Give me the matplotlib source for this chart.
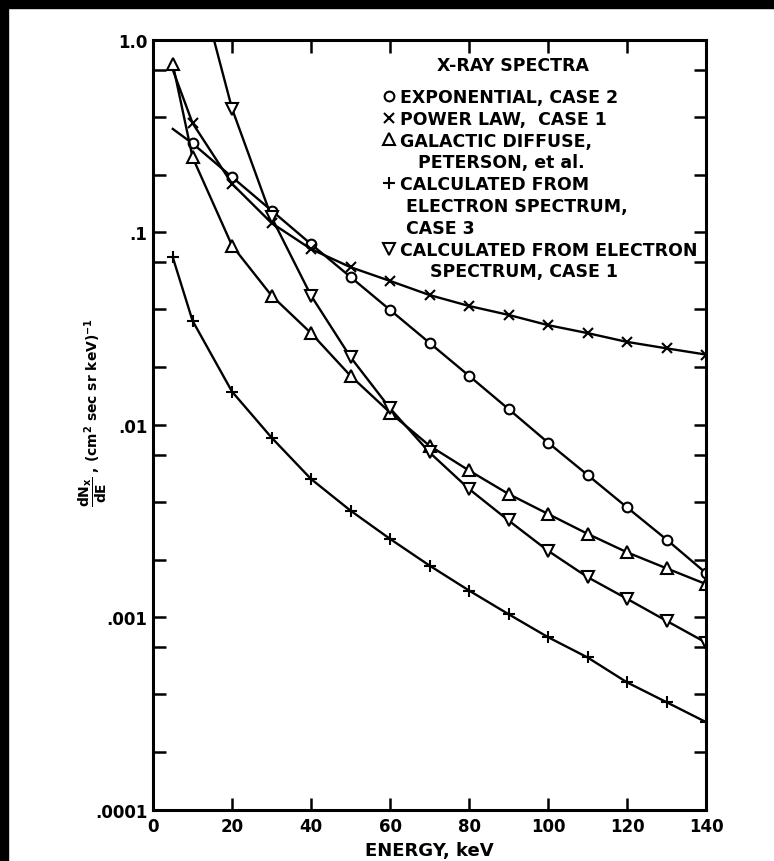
import matplotlib
matplotlib.use('Agg')
import matplotlib.pyplot as plt
from matplotlib.lines import Line2D
from matplotlib.patches import Rectangle
from matplotlib.ticker import LogLocator, FixedLocator, FixedFormatter, NullFormatter

plt.rcParams['font.family'] = ['DejaVu Sans']
plt.rcParams['font.weight'] = 'bold'
plt.rcParams['mathtext.fontset'] = 'dejavusans'
plt.rcParams['mathtext.default'] = 'bf'

# photon energy grid, keV
energy = [5, 10, 20, 30, 40, 50, 60, 70, 80, 90, 100, 110, 120, 130, 140]
energy_case1 = [15, 20, 30, 40, 50, 60, 70, 80, 90, 100, 110, 120, 130, 140]

# dN/dE spectra, (cm^2 sec sr keV)^-1
exp_case2 = [0.345, 0.29, 0.194, 0.13, 0.087, 0.0587, 0.0396, 0.0267, 0.018,
             0.0121, 0.0081, 0.0055, 0.00373, 0.00254, 0.0017]
power_case1 = [0.70, 0.37, 0.179, 0.112, 0.082, 0.066, 0.056, 0.0473, 0.0415,
               0.0373, 0.033, 0.030, 0.027, 0.0250, 0.0232]
galactic = [0.75, 0.246, 0.0855, 0.047, 0.030, 0.018, 0.0116, 0.0078, 0.0058,
            0.00438, 0.00345, 0.00272, 0.00218, 0.0018, 0.00149]
electron_case3 = [0.0743, 0.0348, 0.0149, 0.0086, 0.00524, 0.00359, 0.00256,
                  0.00186, 0.00138, 0.00104, 0.00079, 0.00062, 0.00046,
                  0.000363, 0.000286]
electron_case1 = [1.08, 0.44, 0.12, 0.047, 0.0225, 0.0122, 0.0072, 0.00465,
                  0.00319, 0.00222, 0.00162, 0.00125, 0.00096, 0.00074]

y_ticks = [1e-4, 1e-3, 1e-2, 1e-1, 1.0]
y_tick_labels = ['.0001', '.001', '.01', '.1', '1.0']
x_ticks = [0, 20, 40, 60, 80, 100, 120, 140]

fig = plt.figure(figsize=(7.74, 8.62), dpi=100)
ax = fig.add_axes([0.1977, 0.0592, 0.7145, 0.8933])

lw = 1.7
mk = dict(color='black', lw=lw, mec='black', mew=1.5)
ax.plot(energy, exp_case2, marker='o', ms=7, mfc='white', markevery=range(1, 15), **mk)
ax.plot(energy, power_case1, marker='x', ms=7, markevery=range(1, 15), **mk)
ax.plot(energy, galactic, marker='^', ms=9, mfc='white', **mk)
ax.plot(energy, electron_case3, marker='+', ms=9, **mk)
ax.plot(energy_case1, electron_case1, marker='v', ms=9, mfc='white', markevery=range(1, 14), **mk)

ax.set_yscale('log')
ax.set_xlim(0, 140)
ax.set_ylim(1e-4, 1.0)
ax.yaxis.set_major_locator(FixedLocator(y_ticks))
ax.yaxis.set_major_formatter(FixedFormatter(y_tick_labels))
ax.yaxis.set_minor_locator(LogLocator(base=10, subs=(2, 4, 7)))
ax.yaxis.set_minor_formatter(NullFormatter())
ax.set_xticks(x_ticks)

ax.tick_params(axis='both', which='both', direction='in', top=True, right=True,
               length=9, width=1.8, labelsize=12)
ax.tick_params(axis='y', pad=4)
ax.tick_params(axis='x', pad=5)
for s in ax.spines.values():
    s.set_linewidth(2.2)

ax.set_xlabel('ENERGY, keV', fontsize=13, fontweight='bold')
ax.xaxis.set_label_coords(0.5, -0.040)
ax.set_ylabel(r'$\dfrac{dN_x}{dE}$ , (cm$^2$ sec sr keV)$^{-1}$', fontsize=10, fontweight='bold')
ax.yaxis.set_label_coords(-0.08, 0.518)

# key block
ax.text(0.651, 0.9675, 'X-RAY SPECTRA', transform=ax.transAxes, ha='center', va='center',
        fontsize=12.5, fontweight='bold')

def key(marker, ms, fill='white'):
    return Line2D([], [], ls='none', marker=marker, ms=ms, mfc=fill, mec='black', mew=1.5, color='black')

blank = Line2D([], [], ls='none', marker='None')
handles = [key('o', 7), key('x', 7), key('^', 9), blank, key('+', 9), blank, blank, key('v', 9), blank]
labels = ['EXPONENTIAL, CASE 2',
          'POWER LAW,  CASE 1',
          'GALACTIC DIFFUSE,',
          '   PETERSON, et al.',
          'CALCULATED FROM',
          ' ELECTRON SPECTRUM,',
          ' CASE 3',
          'CALCULATED FROM ELECTRON',
          '     SPECTRUM, CASE 1']
ax.legend(handles, labels, loc='upper left', bbox_to_anchor=(0.418, 0.9377), frameon=False,
          handlelength=0.6, handletextpad=0.3, borderpad=0, borderaxespad=0,
          labelspacing=0.22, prop=dict(weight='bold', size=12.5))

# scan frame edges
fig.add_artist(Rectangle((0, 1 - 9 / 862), 1, 9 / 862, transform=fig.transFigure, color='black'))
fig.add_artist(Rectangle((0, 0), 8 / 774, 1, transform=fig.transFigure, color='black'))

fig.savefig('out.png', dpi=100)
